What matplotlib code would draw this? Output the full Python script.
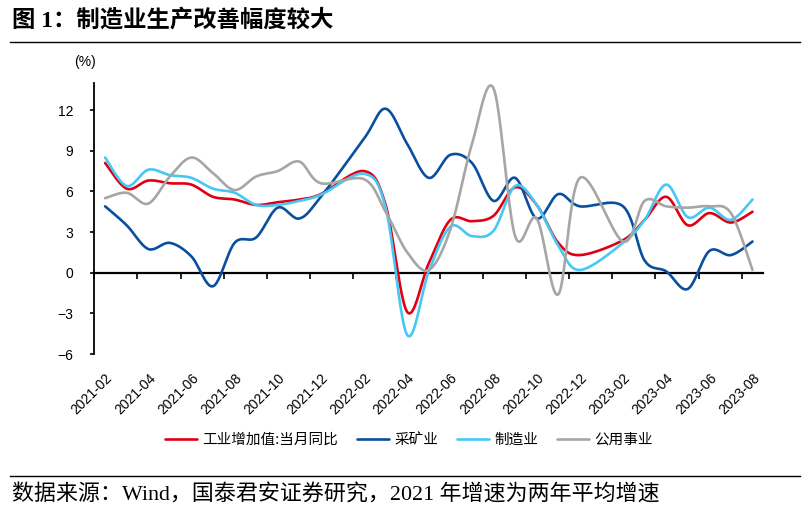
import numpy as np
import matplotlib
matplotlib.use("Agg")
import matplotlib.pyplot as plt
from matplotlib.lines import Line2D

plt.rcParams['font.family'] = ['Liberation Sans', 'Noto Sans CJK SC']
plt.rcParams['axes.unicode_minus'] = True

# monthly data (Jan is folded into Feb, so no Jan entries)
months = [
    '2021-02', '2021-03', '2021-04', '2021-05', '2021-06', '2021-07', '2021-08',
    '2021-09', '2021-10', '2021-11', '2021-12',
    '2022-02', '2022-03', '2022-04', '2022-05', '2022-06', '2022-07', '2022-08',
    '2022-09', '2022-10', '2022-11', '2022-12',
    '2023-02', '2023-03', '2023-04', '2023-05', '2023-06', '2023-07', '2023-08',
]
industry = [8.1, 6.2, 6.8, 6.6, 6.5, 5.6, 5.4, 5.0, 5.2, 5.4, 5.8,
            7.5, 5.0, -2.9, 0.7, 3.9, 3.8, 4.2, 6.3, 5.0, 2.2, 1.3,
            2.4, 3.9, 5.6, 3.5, 4.4, 3.7, 4.5]
mining = [4.9, 3.5, 1.75, 2.2, 1.2, -1.0, 2.2, 2.6, 4.8, 4.0, 5.6,
          9.9, 12.1, 9.5, 7.0, 8.7, 8.1, 5.3, 7.0, 4.0, 5.8, 4.9,
          4.9, 0.9, 0.1, -1.2, 1.6, 1.3, 2.3]
manufacturing = [8.5, 6.4, 7.6, 7.2, 7.0, 6.2, 5.9, 5.0, 5.0, 5.3, 5.75,
                 7.3, 4.8, -4.6, 0.1, 3.4, 2.7, 3.1, 6.4, 5.0, 2.0, 0.2,
                 2.2, 3.9, 6.5, 4.1, 4.8, 3.9, 5.4]
utilities = [5.5, 5.9, 5.1, 7.1, 8.5, 7.35, 6.1, 7.1, 7.5, 8.2, 6.6,
             6.9, 4.5, 1.5, 0.2, 3.2, 9.5, 13.6, 2.7, 4.0, -1.6, 7.0,
             2.3, 5.3, 4.9, 4.8, 4.9, 4.4, 0.2]

series_names = ['工业增加值:当月同比', '采矿业', '制造业', '公用事业']
series_colors = ['#E00012', '#0A4E9E', '#45C8F5', '#A6A6A6']

x_labels = ['2021-02', '2021-04', '2021-06', '2021-08', '2021-10', '2021-12',
            '2022-02', '2022-04', '2022-06', '2022-08', '2022-10', '2022-12',
            '2023-02', '2023-04', '2023-06', '2023-08']
y_ticks = [-6, -3, 0, 3, 6, 9, 12]


def month_pos(m):
    yr, mo = map(int, m.split('-'))
    return (yr - 2021) * 12 + mo - 2


def smooth(xs, ys, n=24):
    # Excel-like smoothed line: cubic bezier, control points at 1/6 of neighbour span
    p = np.column_stack([xs, ys]).astype(float)
    pe = np.vstack([p[0], p, p[-1]])
    t = np.linspace(0, 1, n)[1:, None]
    out = [p[:1]]
    for i in range(len(p) - 1):
        p0, p1, p2, p3 = pe[i], pe[i + 1], pe[i + 2], pe[i + 3]
        c1 = p1 + (p2 - p0) / 6
        c2 = p2 - (p3 - p1) / 6
        out.append((1 - t) ** 3 * p1 + 3 * (1 - t) ** 2 * t * c1
                   + 3 * (1 - t) * t ** 2 * c2 + t ** 3 * p2)
    pts = np.vstack(out)
    return pts[:, 0], pts[:, 1]


xs = np.array([month_pos(m) for m in months])
label_pos = [month_pos(m) for m in x_labels]
n_cat = month_pos(months[-1]) + 1
ymin, ymax = -6, 14

fig = plt.figure(figsize=(8.08, 5.12), dpi=100)
ax = fig.add_axes([94.3 / 808, 1 - 354 / 512, (763.3 - 94.3) / 808, (354 - 83) / 512])

for vals, name, col in zip([industry, mining, manufacturing, utilities],
                           series_names, series_colors):
    sx, sy = smooth(xs, vals)
    ax.plot(sx, sy, color=col, lw=1.9, label=name, solid_capstyle='round')

ax.set_xlim(-0.5, n_cat - 0.5)
ax.set_ylim(ymin, ymax)
ax.set_yticks(y_ticks)
for s in ['top', 'right', 'bottom']:
    ax.spines[s].set_visible(False)
ax.spines['left'].set_linewidth(1.3)
ax.tick_params(axis='y', direction='out', length=3, width=1.2, pad=12,
               labelsize=10, colors='black')

ax.set_xticks(label_pos)
ax.set_xticklabels(x_labels, rotation=45, ha='right', va='top',
                   rotation_mode='anchor', fontsize=10)
ax.tick_params(axis='x', length=0, pad=12)

# zero line with category tick marks every two months
zero_loc = (0 - ymin) / (ymax - ymin)
sec = ax.secondary_xaxis(zero_loc)
sec.set_xticks(np.arange(-0.5, n_cat - 1, 2))
sec.set_xticklabels([])
sec.tick_params(direction='out', length=4, width=1.2)
sec.spines['bottom'].set_linewidth(1.6)

fig.text(85 / 808, 1 - 62 / 512, '(%)', ha='center', va='center', fontsize=10)

# header / footer
fig.text(12 / 808, 1 - 20 / 512, '图 1：制造业生产改善幅度较大', fontsize=16.8,
         weight='bold', family=['Liberation Serif', 'Noto Sans CJK SC'],
         ha='left', va='center')
fig.add_artist(Line2D([10 / 808, 800 / 808], [1 - 42 / 512] * 2,
                      transform=fig.transFigure, color='black', lw=1.0))
fig.add_artist(Line2D([10 / 808, 800 / 808], [1 - 476 / 512] * 2,
                      transform=fig.transFigure, color='black', lw=1.0))
fig.text(12 / 808, 1 - 494 / 512,
         '数据来源：Wind，国泰君安证券研究，2021 年增速为两年平均增速',
         fontsize=15.8, family=['Liberation Serif', 'Noto Sans CJK SC'],
         ha='left', va='center')

fig.legend(loc='center', bbox_to_anchor=(409 / 808, 1 - 440 / 512), ncol=4,
           frameon=False, handlelength=2.2, handletextpad=0.35,
           columnspacing=1.3, prop={'family': ['Noto Sans CJK SC'], 'size': 10.5})

fig.savefig('out.png', dpi=100)
